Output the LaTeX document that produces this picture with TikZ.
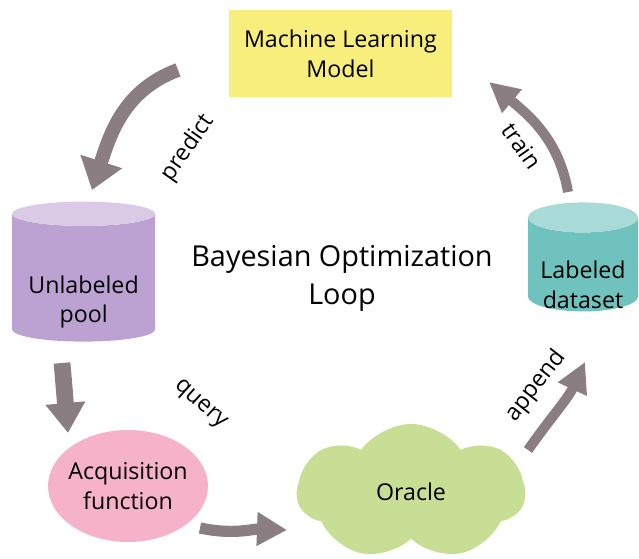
\documentclass[tikz,border=0pt]{standalone}
\usepackage{fontspec}
\setmainfont{Open Sans}
\usetikzlibrary{shapes.geometric,shapes.symbols,arrows.meta}

\definecolor{flowgray}{HTML}{8B7E82}
\definecolor{mlyellow}{HTML}{F8EE7C}
\definecolor{poolbody}{HTML}{BCA2D2}
\definecolor{pooltop}{HTML}{DACAE6}
\definecolor{databody}{HTML}{70C2BF}
\definecolor{datatop}{HTML}{A8DAD8}
\definecolor{acqpink}{HTML}{F5B2C9}
\definecolor{oraclegreen}{HTML}{C8DE95}

\begin{document}
\begin{tikzpicture}[font=\fontsize{16.5}{21}\selectfont,
    flow/.style args={#1/#2}{draw=flowgray,line width=#1,-{Triangle[width=#2,length=0.75cm]}},
    drum/.style={cylinder,shape border rotate=90,cylinder uses custom fill}]
    \useasboundingbox (0,0) rectangle (15.975,13.95);

    \node[fill=mlyellow,minimum width=5.575cm,minimum height=2.175cm,align=center] (ml) at (8.51,12.61) {Machine Learning\\Model};
    \node[drum,aspect=2.6,cylinder body fill=poolbody,cylinder end fill=pooltop,minimum width=3.575cm,minimum height=3.5cm] (pool) at (2.09,6.95) {};
    \node[align=center] (pooltext) at ([yshift=-0.55cm]pool.center) {Unlabeled\\pool};
    \node[drum,aspect=3.2,cylinder body fill=databody,cylinder end fill=datatop,minimum width=2.75cm,minimum height=2.725cm] (data) at (14.575,7.26) {};
    \node[align=center] (datatext) at ([yshift=-0.43cm]data.center) {Labeled\\dataset};
    \node[ellipse,inner xsep=-0.2cm,inner ysep=0pt,fill=acqpink,minimum width=4cm,minimum height=2.8cm,align=center] (acq) at (3.2,1.8) {Acquisition\\function};
    \node[cloud,cloud puffs=7,cloud puff arc=110,cloud ignores aspect,fill=oraclegreen,minimum width=5.7cm,minimum height=3.4cm] (oracle) at (10.275,1.65) {Oracle};
    \node[align=center,font=\fontsize{20.5}{27}\selectfont] (loop) at (8.55,7.0) {Bayesian Optimization\\Loop};

    \draw[flow=0.35cm/1.05cm] ([shift={(-4.06,-0.41)}]ml.center) to[out=200,in=72] ([shift={(0.21,2.25)}]pool.center);
    \draw[flow=0.42cm/0.95cm] ([shift={(-0.54,-2.075)}]pool.center) to[out=-85,in=95] ([shift={(-1.5,1.325)}]acq.center);
    \draw[flow=0.28cm/0.8cm] ([shift={(1.8,-1.05)}]acq.center) to[out=-12,in=178] ([shift={(-3.1,-0.95)}]oracle.center);
    \draw[flow=0.25cm/0.75cm] ([shift={(2.925,1.05)}]oracle.center) to[out=55,in=245] ([shift={(0.05,-2.36)}]data.center);
    \draw[flow=0.25cm/0.72cm] ([shift={(-0.375,1.89)}]data.center) to[out=100,in=-40] ([shift={(3.715,-0.71)}]ml.center);

    \node[rotate=55] (predict) at (4.7,10.25) {predict};
    \node[rotate=-42] (query) at (5.0,3.825) {query};
    \node[rotate=52] (append) at (13.4,4.3) {append};
    \node[rotate=-55] (train) at (13.05,10.3) {train};
\end{tikzpicture}
\end{document}
